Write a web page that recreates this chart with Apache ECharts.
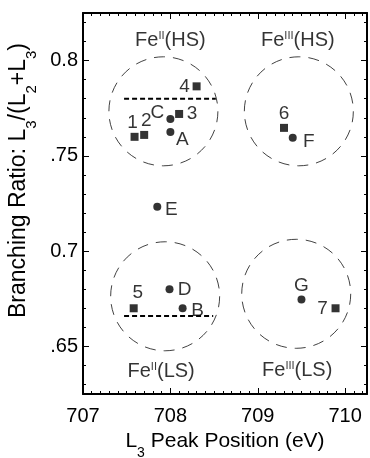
<!DOCTYPE html>
<html><head><meta charset="utf-8">
<script src="https://cdn.jsdelivr.net/npm/echarts@6/dist/echarts.min.js"></script>
<style>html,body{margin:0;padding:0;background:#fff}#c{width:370px;height:458px}</style>
</head><body><div id="c"></div>
<script>
// ---- data ----
const squareLabels = ['1', '2', '3', '4', '5', '6', '7'];
const squareX = [707.59, 707.70, 708.10, 708.30, 707.58, 709.30, 709.89];
const squareY = [0.760, 0.761, 0.772, 0.7865, 0.670, 0.7647, 0.670];

const circleLabels = ['A', 'B', 'C', 'D', 'E', 'F', 'G'];
const circleX = [708.00, 708.14, 708.00, 707.99, 707.85, 709.40, 709.50];
const circleY = [0.7625, 0.670, 0.7694, 0.680, 0.7233, 0.7595, 0.6746];

const regionOxidation = ['II', 'III', 'II', 'III'];
const regionSpin = ['HS', 'HS', 'LS', 'LS'];
const regionX = [707.92, 709.47, 707.94, 709.44];
const regionY = [0.7734, 0.7734, 0.6763, 0.6776];

const refLineY = [0.780, 0.666];
const refLineXStart = [707.47, 707.47];
const refLineXEnd = [708.52, 708.49];

const xTickValues = [707, 708, 709, 710];
const xTickLabels = ['707', '708', '709', '710'];
const yTickValues = [0.65, 0.70, 0.75, 0.80];
const yTickLabels = ['.65', '0.7', '.75', '0.8'];

// ---- styling / layout helpers ----
const FONT = '"Liberation Sans", Arial, Helvetica, sans-serif';
const xMin = 707, xMax = 710.25, yMin = 0.625, yMax = 0.825;
const squareOffsets = [[-2, -14], [2, -14], [13, 0], [-12, 0], [4, -16], [0, -14], [-13, 0]];
const circleOffsets = [[12, 8], [15, 2], [-13, -6], [15, 1], [14, 3], [16, 4], [0, -14]];
const regionLabelOffsets = [[7, -71], [-1, -71], [-4, 75], [1, 77]];

function minorValues(lo, hi, step, majors) {
  const out = [];
  const n = Math.round((hi - lo) / step);
  for (let i = 0; i <= n; i++) {
    const v = Math.round((lo + i * step) * 1000) / 1000;
    if (!majors.some(m => Math.abs(m - v) < 1e-6)) out.push(v);
  }
  return out;
}
const xMinor = minorValues(707.1, 710.2, 0.1, xTickValues);
const yMinor = minorValues(0.63, 0.82, 0.01, yTickValues);

function lookup(vals, labels, v) {
  const i = vals.findIndex(m => Math.abs(m - v) < 1e-6);
  return i >= 0 ? labels[i] : '';
}

function majorX(pos, showLabel, name) {
  return {
    type: 'value', min: xMin, max: xMax, position: pos,
    axisLine: { show: true, onZero: false, lineStyle: { color: '#000', width: 2 } },
    axisTick: { show: true, inside: true, length: 6, customValues: xTickValues, lineStyle: { color: '#000', width: 1 } },
    axisLabel: { show: showLabel, customValues: xTickValues, margin: 12, fontSize: 20, color: '#000', fontFamily: FONT,
      formatter: v => lookup(xTickValues, xTickLabels, v) },
    splitLine: { show: false },
    name: name, nameLocation: 'middle', nameGap: 36,
    nameTextStyle: { fontSize: 21, color: '#000', fontFamily: FONT,
      rich: { s: { fontSize: 14, verticalAlign: 'bottom', padding: [0, 0, -8, 0], fontFamily: FONT, color: '#000' } } }
  };
}
function minorX(pos) {
  return {
    type: 'value', min: xMin, max: xMax, position: pos,
    axisLine: { show: false, onZero: false },
    axisTick: { show: true, inside: true, length: 3, customValues: xMinor, lineStyle: { color: '#000', width: 1 } },
    axisLabel: { show: false }, splitLine: { show: false }
  };
}
function majorY(pos, showLabel, name) {
  return {
    type: 'value', min: yMin, max: yMax, position: pos,
    axisLine: { show: true, onZero: false, lineStyle: { color: '#000', width: 2 } },
    axisTick: { show: true, inside: true, length: 6, customValues: yTickValues, lineStyle: { color: '#000', width: 1 } },
    axisLabel: { show: showLabel, customValues: yTickValues, margin: 5, fontSize: 20, color: '#000', fontFamily: FONT,
      formatter: v => lookup(yTickValues, yTickLabels, v) },
    splitLine: { show: false },
    name: name, nameLocation: 'middle', nameGap: 48, nameRotate: 90,
    nameTextStyle: { fontSize: 23, color: '#000', fontFamily: FONT, padding: [0, 0, 0, 46],
      rich: { s: { fontSize: 15, verticalAlign: 'bottom', padding: [0, 0, -9, 0], fontFamily: FONT, color: '#000' } } }
  };
}
function minorY(pos) {
  return {
    type: 'value', min: yMin, max: yMax, position: pos,
    axisLine: { show: false, onZero: false },
    axisTick: { show: true, inside: true, length: 3, customValues: yMinor, lineStyle: { color: '#000', width: 1 } },
    axisLabel: { show: false }, splitLine: { show: false }
  };
}

const pointLabel = { show: true, position: 'inside', fontSize: 19, color: '#000', fontFamily: FONT, formatter: p => p.name };

const chart = echarts.init(document.getElementById('c'), null, { renderer: 'canvas' });
chart.setOption({
  animation: false,
  backgroundColor: '#fff',
  grid: { left: 83, right: 3, top: 13, bottom: 64, outerBoundsMode: 'none', containLabel: false },
  xAxis: [majorX('bottom', true, 'L{s|3} Peak Position (eV)'), minorX('bottom'), majorX('top', false, ''), minorX('top')],
  yAxis: [majorY('left', true, 'Branching Ratio: L{s|3}/(L{s|2}+L{s|3})'), minorY('left'), majorY('right', false, ''), minorY('right')],
  series: [
    {
      type: 'scatter', silent: true, z: 1, symbol: 'circle', symbolSize: 109,
      itemStyle: { color: 'rgba(0,0,0,0)', borderColor: '#111', borderWidth: 1, borderType: [11, 8] },
      label: { show: true, position: 'inside', fontSize: 20, color: '#000', fontFamily: FONT,
        formatter: p => p.name,
        rich: { sup: { fontSize: 11, verticalAlign: 'top', padding: [0, 0, 6, 0], fontFamily: FONT, color: '#000' } } },
      data: regionX.map((x, i) => ({ name: 'Fe{sup|' + regionOxidation[i] + '}(' + regionSpin[i] + ')',
        value: [x, regionY[i]], label: { offset: regionLabelOffsets[i] } }))
    },
    ...refLineY.map((y, i) => ({
      type: 'line', silent: true, z: 2, symbol: 'none',
      lineStyle: { color: '#000', width: 2, type: [5, 3] },
      data: [[refLineXStart[i], y], [refLineXEnd[i], y]]
    })),
    {
      type: 'scatter', z: 3, symbol: 'rect', symbolSize: 8, itemStyle: { color: '#000' }, label: pointLabel,
      data: squareX.map((x, i) => ({ name: squareLabels[i], value: [x, squareY[i]], label: { offset: squareOffsets[i] } }))
    },
    {
      type: 'scatter', z: 3, symbol: 'circle', symbolSize: 8, itemStyle: { color: '#000' }, label: pointLabel,
      data: circleX.map((x, i) => ({ name: circleLabels[i], value: [x, circleY[i]], label: { offset: circleOffsets[i] } }))
    }
  ]
});
</script></body></html>
